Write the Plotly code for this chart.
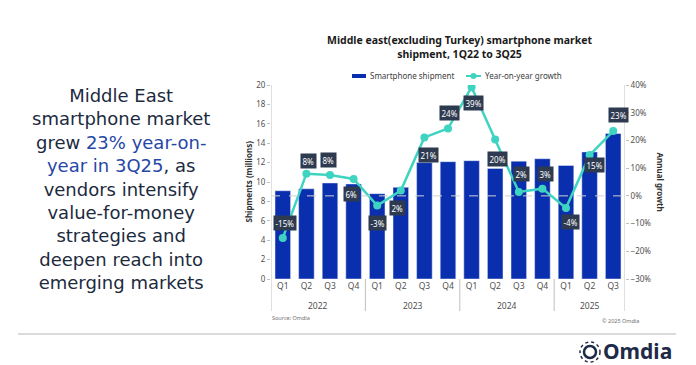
import plotly.graph_objects as go

quarters = ["Q1", "Q2", "Q3", "Q4", "Q1", "Q2", "Q3", "Q4", "Q1", "Q2", "Q3", "Q4", "Q1", "Q2", "Q3"]
years = ["2022", "2023", "2024", "2025"]
year_counts = [4, 4, 4, 3]
shipments = [9.1, 9.3, 9.9, 9.8, 8.8, 9.45, 12.0, 12.1, 12.2, 11.4, 12.15, 12.4, 11.7, 13.1, 15.0]
growth = [-15.2, 8.0, 7.5, 6.1, -3.5, 1.9, 21.1, 24.3, 39.2, 20.3, 1.4, 2.6, -4.4, 14.7, 23.4]
growth_labels = ["-15%", "8%", "8%", "6%", "-3%", "2%", "21%", "24%", "39%", "20%", "2%", "3%", "-4%", "15%", "23%"]
label_dx = [2, 2, -1.5, -2, 0, -3, 4, 1, 1.5, 2, 3, 3, 4, 5, 5]
label_dy = [-15, -13, -15, 15, 17, 17, 18, -16, 16, 19, -18, -15, 14, 10, -16]

headline = [
    "Middle East",
    "smartphone market",
    "grew <span style='color:#2747a6'>23% year-on-</span>",
    "<span style='color:#2747a6'>year in 3Q25</span>, as",
    "vendors intensify",
    "value-for-money",
    "strategies and",
    "deepen reach into",
    "emerging markets",
]

BAR = "#0a2fae"
LINE = "#3fd3c1"
LABEL_BG = "#2e3a4f"
AX = "#bfbfbf"
TXT = "#404040"
FONT = "Noto Sans"

# plot area in pixels (for placing decoration in paper coords)
L, R, T, B = 271, 625, 85, 279
PW, PH = R - L, B - T


def px(xp):
    return (xp - L) / PW


def py(yp):
    return (B - yp) / PH


x = list(range(len(quarters)))

fig = go.Figure()
fig.add_trace(go.Bar(x=x, y=shipments, name="Smartphone shipment", marker_color=BAR,
                     width=0.66, yaxis="y", showlegend=False))
fig.add_trace(go.Scatter(x=x, y=growth, name="Year-on-year growth", mode="lines+markers",
                         line=dict(color=LINE, width=2.5), marker=dict(color=LINE, size=8),
                         yaxis="y2", showlegend=False))

annotations = []
for i, (g, t, dx, dy) in enumerate(zip(growth, growth_labels, label_dx, label_dy)):
    annotations.append(dict(x=i, y=g, xref="x", yref="y2", text=t, showarrow=False,
                            xshift=dx, yshift=-dy, bgcolor=LABEL_BG, borderpad=1.5,
                            font=dict(color="white", size=8, family=FONT)))

shapes = []
# outer axis lines (full height + below)
for xv in [-0.5, len(x) - 0.5]:
    shapes.append(dict(type="line", xref="x", yref="paper", x0=xv, x1=xv,
                       y0=py(311), y1=1, line=dict(color=AX, width=1)))
# year group labels and dividers
start = 0
for k, (yr, n) in enumerate(zip(years, year_counts)):
    annotations.append(dict(x=start + (n - 1) / 2, y=py(305), xref="x", yref="paper", text=yr,
                            showarrow=False, yanchor="middle",
                            font=dict(color="#505050", size=8.5, family=FONT)))
    if k > 0:
        shapes.append(dict(type="line", xref="x", yref="paper", x0=start - 0.5, x1=start - 0.5,
                           y0=py(311), y1=0, line=dict(color=AX, width=1)))
    start += n
# zero growth dashed line
shapes.append(dict(type="line", xref="paper", yref="y2", x0=0, x1=1, y0=0, y1=0,
                   line=dict(color="#d0d0d0", width=1, dash="dash"), layer="above"))
# bottom separator line
shapes.append(dict(type="line", xref="paper", yref="paper", x0=px(18), x1=px(676),
                   y0=py(334), y1=py(334), line=dict(color="#cfcfcf", width=1.5)))
# logo icon
shapes.append(dict(type="circle", xref="paper", yref="paper", xsizemode="pixel", ysizemode="pixel",
                   xanchor=px(590), yanchor=py(352), x0=-10, x1=10, y0=-10, y1=10,
                   line=dict(color="#1e2a48", width=1.5, dash="dot")))
shapes.append(dict(type="circle", xref="paper", yref="paper", xsizemode="pixel", ysizemode="pixel",
                   xanchor=px(590), yanchor=py(352), x0=-6, x1=6, y0=-6, y1=6,
                   line=dict(color="#1e2a48", width=2.5)))
# manual legend
shapes.append(dict(type="rect", xref="paper", yref="paper", x0=px(352), x1=px(366),
                   y0=py(78), y1=py(74), fillcolor=BAR, line=dict(width=0)))
shapes.append(dict(type="line", xref="paper", yref="paper", x0=px(466), x1=px(481),
                   y0=py(76), y1=py(76), line=dict(color=LINE, width=2)))
shapes.append(dict(type="circle", xref="paper", yref="paper", xsizemode="pixel", ysizemode="pixel",
                   xanchor=px(473.5), yanchor=py(76), x0=-3, x1=3, y0=-3, y1=3,
                   fillcolor=LINE, line=dict(width=0)))
annotations.append(dict(x=px(368), y=py(76), xref="paper", yref="paper", text="Smartphone shipment",
                        xanchor="left", yanchor="middle", showarrow=False,
                        font=dict(color="#404040", size=8, family=FONT)))
annotations.append(dict(x=px(483), y=py(76), xref="paper", yref="paper", text="Year-on-year growth",
                        xanchor="left", yanchor="middle", showarrow=False,
                        font=dict(color="#404040", size=8, family=FONT)))

# title
annotations.append(dict(x=px(459), y=py(47), xref="paper", yref="paper",
                        text="<b>Middle east(excluding Turkey) smartphone market<br>shipment, 1Q22 to 3Q25</b>",
                        xanchor="center", yanchor="middle", showarrow=False,
                        font=dict(size=10.5, color="#1a1a1a", family=FONT)))
# axis titles
annotations.append(dict(x=px(240), y=0.5, xref="paper", yref="paper", text="<b>Shipments (millions)</b>",
                        textangle=-90, showarrow=False, font=dict(color="#333333", size=8, family=FONT)))
annotations.append(dict(x=px(668), y=0.5, xref="paper", yref="paper", text="<b>Annual growth</b>",
                        textangle=90, showarrow=False, font=dict(color="#333333", size=8, family=FONT)))
# source
annotations.append(dict(x=px(270), y=py(318), xref="paper", yref="paper", text="Source: Omdia",
                        xanchor="left", yanchor="middle", showarrow=False,
                        font=dict(color="#707070", size=5.5, family=FONT)))
annotations.append(dict(x=px(641), y=py(321), xref="paper", yref="paper", text="© 2025 Omdia",
                        xanchor="right", yanchor="middle", showarrow=False,
                        font=dict(color="#707070", size=5.5, family=FONT)))
# logo text
annotations.append(dict(x=px(601), y=py(351), xref="paper", yref="paper", text="<b>Omdia</b>",
                        xanchor="left", yanchor="middle", showarrow=False,
                        font=dict(color="#1e2a48", size=21, family=FONT)))
# headline
annotations.append(dict(x=px(121), y=py(189), xref="paper", yref="paper",
                        text="<br>".join(headline), showarrow=False, xanchor="center",
                        yanchor="middle", align="center",
                        font=dict(color="#1c2a3e", size=18, family="DejaVu Sans")))

fig.update_layout(
    width=696, height=365,
    margin=dict(l=L, r=696 - R, t=T, b=365 - B),
    paper_bgcolor="white", plot_bgcolor="white",
    font=dict(family=FONT, color=TXT),
    showlegend=False,
    bargap=0.34,
    xaxis=dict(tickvals=x, ticktext=quarters, range=[-0.5, len(x) - 0.5], showgrid=False,
               zeroline=False, showline=False, ticks="", tickfont=dict(size=8.5, color="#505050")),
    yaxis=dict(range=[0, 20], dtick=2, showgrid=False, zeroline=False, showline=False,
               ticks="outside", ticklen=3, tickcolor=AX, tickfont=dict(size=8, color="#505050")),
    yaxis2=dict(range=[-30, 40], dtick=10, ticksuffix="%", overlaying="y", side="right",
                showgrid=False, zeroline=False, showline=False, ticks="outside", ticklen=3,
                tickcolor=AX, tickfont=dict(size=8, color="#505050")),
    annotations=annotations,
    shapes=shapes,
)

fig.write_html("out.html", config={"displayModeBar": False},
               post_script="document.body.style.margin='0px';")
